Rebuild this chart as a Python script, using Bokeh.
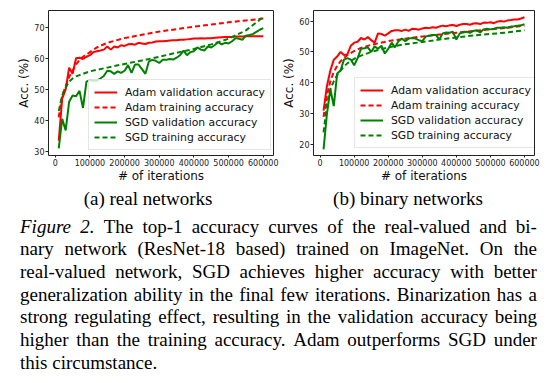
from bokeh.plotting import figure
from bokeh.models import Div, FixedTicker
from bokeh.layouts import row, column
from bokeh.embed import file_html
from bokeh.resources import INLINE

# ---------------- data ----------------
val_iters = list(range(10000, 610000, 10000))
train_iters = [10000, 20000, 30000, 40000, 50000, 60000, 70000, 80000, 100000, 120000,
               150000, 200000, 250000, 300000, 350000, 400000, 450000, 500000, 550000, 600000]

real_adam_val = [33.5, 47, 50, 57, 55, 60, 60.2, 59.8, 60.5, 61,
                 62, 62.3, 62.5, 62.8, 63.8, 62.8, 63.8, 63.5, 64.2, 64,
                 64.5, 64.6, 64.4, 65, 64.8, 64.6, 65, 65.1, 65.4, 65.5,
                 65.5, 65.6, 65.7, 65.8, 65.8, 66, 66, 66.1, 66.2, 66.4,
                 66.4, 66.5, 66.4, 66.5, 66.5, 66.6, 66.7, 66.8, 66.9, 66.9,
                 66.9, 67, 67, 67, 67.1, 67.1, 67.1, 67.1, 67.1, 67.1]
real_adam_train = [41, 48, 51, 54, 56, 58, 59.5, 60.5, 62, 63.5,
                   65, 66.5, 67.6, 68.6, 69.4, 70.2, 70.9, 71.6, 72.2, 72.8]
real_sgd_val = [31, 40.5, 36.8, 46, 48, 47.8, 49.5, 44, 52.5, 53,
                52.8, 52.8, 53.5, 54.3, 56, 55.8, 55, 55.8, 55.3, 56,
                57.8, 55.3, 58, 58, 56.5, 55, 59, 59.5, 59.2, 58.5,
                59.5, 59.5, 59.8, 59.6, 60.2, 61, 62.5, 61, 62, 62.3,
                63.5, 62.8, 62.5, 63.8, 63.5, 64.3, 65.2, 64.5, 65, 64.8,
                65.5, 66.5, 66.3, 66, 67.3, 67.5, 67.8, 68.5, 69.2, 69.7]
real_sgd_train = [43, 48, 50.5, 52.5, 53.5, 54.2, 54.6, 55, 55.8, 56.3,
                  57, 58.2, 59.3, 60.5, 61.8, 63, 64.5, 66.3, 69, 73.3]

bin_adam_val = [31, 39, 44, 47.5, 48.5, 50, 49, 49.2, 52, 53,
                53.3, 54.5, 54, 54.8, 53.8, 53, 56, 55.8, 55.3, 56,
                56.8, 57, 57, 56.8, 57.2, 56.8, 57.5, 57.4, 57.2, 57.6,
                57.8, 57.7, 58, 57.8, 58.2, 58.5, 58.3, 58.6, 58.7, 58.4,
                58.8, 59, 59, 58.8, 59.2, 59.3, 59, 59.5, 59.4, 59.6,
                59.3, 59.8, 60, 59.8, 60.2, 60.3, 60.5, 60.5, 60.8, 61.2]
bin_adam_train = [29, 36, 40.5, 43.5, 45.5, 47, 48, 49, 50.3, 51.3,
                  52.3, 53.5, 54.3, 55, 55.6, 56.2, 56.8, 57.3, 57.8, 58.5]
bin_sgd_val = [18.5, 30, 38, 32.5, 43, 44, 47.5, 48, 47.5, 45.7,
               48, 51, 51.2, 51.5, 50, 51.8, 51, 52, 49.5, 51,
               53, 51.5, 53.5, 54.3, 53.5, 54.3, 54.5, 54.3, 53.8, 53.5,
               55, 55.2, 55.5, 55.5, 54, 56, 56.3, 56.2, 56.5, 54,
               56, 56.3, 56.5, 56.2, 56.8, 57, 56.3, 57.3, 57.5, 57.3,
               57.5, 57.8, 57.8, 58, 57.8, 58.2, 58.3, 58.5, 58.6, 59]
bin_sgd_train = [24, 33, 38, 40.5, 42.5, 44, 45.3, 46.3, 47.8, 48.8,
                 50, 51.5, 52.5, 53.2, 54, 54.7, 55.3, 55.8, 56.3, 57]

x_ticks = [0, 100000, 200000, 300000, 400000, 500000, 600000]
x_tick_labels = ["0", "100000", "200000", "300000", "400000", "500000", "600000"]
real_y_ticks = [30, 40, 50, 60, 70]
bin_y_ticks = [20, 30, 40, 50, 60]

series_labels = ["Adam validation accuracy", "Adam training accuracy",
                 "SGD validation accuracy", "SGD training accuracy"]
subcaptions = ["(a) real networks", "(b) binary networks"]
caption_lines = [
    "Figure 2. The top-1 accuracy curves of the real-valued and bi-",
    "nary network (ResNet-18 based) trained on ImageNet. On the",
    "real-valued network, SGD achieves higher accuracy with better",
    "generalization ability in the final few iterations. Binarization has a",
    "strong regulating effect, resulting in the validation accuracy being",
    "higher than the training accuracy. Adam outperforms SGD under",
    "this circumstance.",
]

RED = "#ff0000"
GREEN = "#008000"
FONT = "DejaVu Sans"


def make_fig(width, yr, yticks, series, bl, br, bt, legend_loc):
    p = figure(width=width, height=185, x_range=(-19500, 629500), y_range=yr,
               output_backend="svg", toolbar_location=None,
               min_border_left=bl, min_border_right=br, min_border_top=bt,
               min_border_bottom=28)
    p.xgrid.visible = False
    p.ygrid.visible = False
    p.outline_line_color = "#222222"
    p.outline_line_width = 1
    p.outline_line_alpha = 1
    va, ta, vs, ts = series
    p.line(val_iters, va, color=RED, line_width=2, legend_label=series_labels[0])
    p.line(train_iters, ta, color=RED, line_width=2, line_dash="5 3", legend_label=series_labels[1])
    p.line(val_iters, vs, color=GREEN, line_width=2, legend_label=series_labels[2])
    p.line(train_iters, ts, color=GREEN, line_width=2, line_dash="5 3", legend_label=series_labels[3])

    p.xaxis.ticker = FixedTicker(ticks=x_ticks)
    p.xaxis.major_label_overrides = {t: l for t, l in zip(x_ticks, x_tick_labels)}
    p.yaxis.ticker = FixedTicker(ticks=yticks)
    for ax in (p.xaxis[0], p.yaxis[0]):
        ax.axis_line_color = None
        ax.major_tick_in = 0
        ax.major_tick_out = 3
        ax.minor_tick_line_color = None
        ax.major_tick_line_color = "#222222"
        ax.major_label_text_font = FONT
        ax.major_label_text_font_size = "8px"
        ax.major_label_text_color = "#222222"
        ax.axis_label_text_font = FONT
        ax.axis_label_text_font_size = "12px"
        ax.axis_label_text_font_style = "normal"
        ax.axis_label_text_color = "#111111"
        ax.major_label_standoff = 1
        ax.axis_label_standoff = 0
    p.xaxis.major_tick_out = 2
    p.xaxis.axis_label = "# of iterations"
    p.yaxis.axis_label = "Acc. (%)"

    lg = p.legend[0]
    lg.location = legend_loc
    lg.label_text_font = FONT
    lg.label_text_font_size = "10.8px"
    lg.label_text_color = "#111111"
    lg.glyph_width = 23
    lg.glyph_height = 14
    lg.label_height = 14
    lg.label_standoff = 8
    lg.spacing = 1
    lg.padding = 5
    lg.margin = 0
    lg.border_line_color = "#cccccc"
    lg.border_line_width = 1
    lg.background_fill_alpha = 0.8
    return p


p1 = make_fig(279, (28.7, 75.4), real_y_ticks,
              (real_adam_val, real_adam_train, real_sgd_val, real_sgd_train),
              48, 6, 9, (40, 5))
p2 = make_fig(276, (16.5, 63.4), bin_y_ticks,
              (bin_adam_val, bin_adam_train, bin_sgd_val, bin_sgd_train),
              30, 21, 10, (41, 7))

# ---------------- caption ----------------
LH = 22.67
parts = ['<div style="position:relative;width:555px;height:198px;overflow:hidden;'
         'font-family:\'Liberation Serif\',serif;color:#000;font-size:19px;">']
sub_centers = [148, 408]
for txt, cx in zip(subcaptions, sub_centers):
    parts.append(f'<div style="position:absolute;left:{cx-100}px;width:200px;top:3px;'
                 f'text-align:center;line-height:{LH}px;white-space:nowrap;">{txt}</div>')
for i, line in enumerate(caption_lines):
    top = 30.5 + LH * i
    words = line.split()
    if i < len(caption_lines) - 1:
        spans = []
        for j, w in enumerate(words):
            if i == 0 and j < 2:
                spans.append(f'<span style="font-style:italic">{w}</span>')
            else:
                spans.append(f'<span>{w}</span>')
        parts.append(f'<div style="position:absolute;left:20px;width:517px;top:{top:.2f}px;'
                     f'line-height:{LH}px;display:flex;justify-content:space-between;'
                     f'white-space:nowrap;">{"".join(spans)}</div>')
    else:
        parts.append(f'<div style="position:absolute;left:20px;top:{top:.2f}px;'
                     f'line-height:{LH}px;white-space:nowrap;">{line}</div>')
parts.append('</div>')
cap = Div(text="".join(parts), width=555, height=198, margin=(0, 0, 0, 0))

layout = column(row(p1, p2, spacing=0), cap, spacing=0)
open("out.html", "w").write(file_html(layout, INLINE))
